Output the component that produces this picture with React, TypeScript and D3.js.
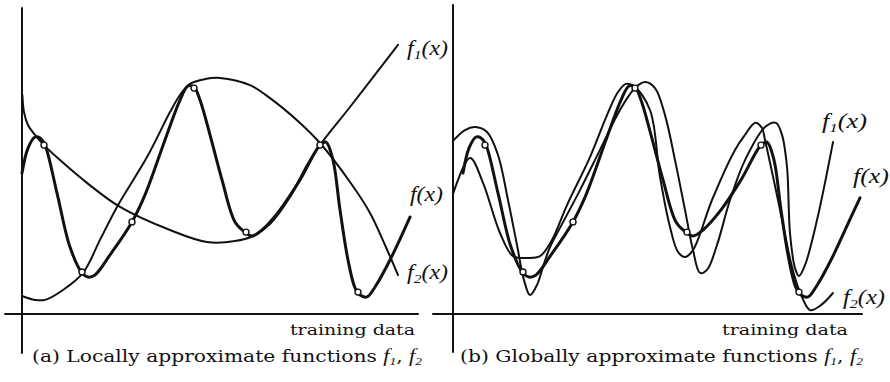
import * as d3 from 'd3';

const W = 890;
const H = 382;

// training data (same inputs in both panels)
const trainX = [5.5, 15, 27.5, 43, 56, 74.5, 84];
const trainY = [56.3, 14, 30.7, 75.3, 27.3, 56.3, 7.3];

// target function f(x)
const fX = [0, 1.5, 3.25, 4.5, 5.75, 8.75, 12, 15, 16.5, 18.25, 22, 27.5, 30.75, 35.75, 39.5, 41.5, 43, 44.5, 47, 50, 53.25, 55.75, 57.5, 60, 64.5, 69.5, 74.5, 76, 77.75, 79.5, 81.5, 83.25, 84.5, 86.25, 88.25, 92, 97, 99.25];
const fY = [47, 55.3, 59, 58.7, 56.3, 40.3, 22.3, 13.7, 12.3, 13, 19.7, 30.7, 39.7, 58, 71.3, 76, 75.7, 71.3, 59.7, 44.7, 30.7, 27.3, 26, 28, 34.7, 44.7, 56.3, 57.3, 51.3, 34.7, 18, 8.7, 6.3, 5.7, 9, 18, 32.3, 38.7];

// (a) locally approximate f1
const locF1X = [0.1, 0.5, 1.5, 3.25, 5.5, 9.5, 16.25, 24.5, 37, 46.25, 53.25, 57.75, 62, 67, 71.25, 74.5, 82, 94];
const locF1Y = [73, 67.3, 63, 59.7, 56.3, 51.3, 43.7, 35.7, 28, 24, 24.3, 26, 30, 39, 49.7, 56.3, 69, 89.7];

// (a) locally approximate f2
const locF2X = [0, 3.25, 5.75, 10.25, 15.25, 19.5, 23.75, 31.25, 37, 39.5, 42, 45.75, 49.5, 57, 61.25, 69.5, 74.5, 82, 87, 90.75, 94];
const locF2Y = [6, 4.7, 4.7, 8, 13.7, 24.7, 35.7, 52.3, 67.3, 73, 76.7, 78.3, 78.7, 76.3, 72.7, 63.7, 57, 44, 33.7, 23, 13];

// (b) globally approximate f1
const glbF1X = [-2.5, 0.5, 3, 6, 8.75, 11.25, 13.5, 15.25, 16.75, 18.5, 20, 21.75, 24.25, 29.25, 34.25, 39.25, 43, 45.5, 48, 50.5, 53, 55.5, 57.5, 59.25, 61, 63.5, 66.75, 70.5, 75.5, 78.25, 79.75, 81, 81.75, 83, 84, 85.5, 88.5, 92.5];
const glbF1Y = [57.7, 61.3, 62.3, 60.7, 53, 38, 23, 11.3, 6.3, 9.7, 15.7, 22.3, 28.7, 41.3, 54.7, 68, 75.3, 77.3, 75.3, 66.3, 51.3, 34.7, 21.3, 13.7, 14.7, 23, 38, 51.3, 62.3, 63.7, 59.7, 49, 27, 15.3, 12.7, 16.3, 31.3, 57.3];

// (b) globally approximate f2
const glbF2X = [-2.5, 1.75, 5, 9.25, 12.5, 16, 19.25, 22.25, 26, 31.75, 36, 38.75, 40.75, 42.75, 46.75, 49.25, 51.75, 53.75, 55.5, 57.5, 62.25, 68, 70.5, 73, 74.75, 75.5, 78.75, 82.25, 84.25, 86.75, 89.25, 92.5];
const glbF2Y = [40, 52, 43.7, 27, 19.3, 18.7, 19.3, 24.7, 36.3, 52.3, 66.3, 74, 76.7, 76, 68, 45.7, 29, 20.7, 19, 21.3, 38, 54.7, 59.7, 63.7, 62, 58, 38, 15.7, 7.3, 1.3, 2.7, 7];

const y = d3.scaleLinear().domain([0, 100]).range([314, 14]);
const xA = d3.scaleLinear().domain([0, 100]).range([22, 422]);
const xB = d3.scaleLinear().domain([0, 100]).range([463, 863]);

const zip = (xs: number[], ys: number[]) => xs.map((v, i) => [v, ys[i]] as [number, number]);

const pathFor = (x: d3.ScaleLinear<number, number>, pts: [number, number][]) =>
  d3
    .line<[number, number]>()
    .x((d) => x(d[0]))
    .y((d) => y(d[1]))
    .curve(d3.curveCatmullRom.alpha(0.5))(pts) || '';

const LABEL_FONT = '"Liberation Serif", "Times New Roman", serif';
const TEXT_FONT = '"DejaVu Serif", serif';

function FLabel({ x, yPos, sub, len }: { x: number; yPos: number; sub?: string; len: number }) {
  return (
    <text x={x} y={yPos} fontFamily={LABEL_FONT} fontStyle="italic" fontSize={20} textLength={len} lengthAdjust="spacingAndGlyphs">
      f
      {sub ? (
        <>
          <tspan fontSize={13} dy={4}>{sub}</tspan>
          <tspan dy={-4}>(x)</tspan>
        </>
      ) : (
        '(x)'
      )}
    </text>
  );
}

function Caption({ x, yPos, tag, word, len }: { x: number; yPos: number; tag: string; word: string; len: number }) {
  return (
    <text x={x} y={yPos} fontFamily={TEXT_FONT} fontSize={16.5} textLength={len} lengthAdjust="spacingAndGlyphs" fill="#111">
      {`(${tag}) ${word} approximate functions `}
      <tspan fontStyle="italic" fontFamily={LABEL_FONT} fontSize={18}>f</tspan>
      <tspan fontStyle="italic" fontFamily={LABEL_FONT} fontSize={11} dy={3}>1</tspan>
      <tspan dy={-3}>, </tspan>
      <tspan fontStyle="italic" fontFamily={LABEL_FONT} fontSize={18}>f</tspan>
      <tspan fontStyle="italic" fontFamily={LABEL_FONT} fontSize={11} dy={3}>2</tspan>
    </text>
  );
}

export default function App() {
  const fPts = zip(fX, fY);
  const fA = pathFor(xA, fPts.slice(0, -1));
  const fB = pathFor(xB, fPts);
  const lf1 = pathFor(xA, zip(locF1X, locF1Y));
  const lf2 = pathFor(xA, zip(locF2X, locF2Y));
  const gf1 = pathFor(xB, zip(glbF1X, glbF1Y));
  const gf2 = pathFor(xB, zip(glbF2X, glbF2Y));
  const train = zip(trainX, trainY);

  const stroke = '#111';

  return (
    <svg width={W} height={H} style={{ position: 'absolute', left: 0, top: 0, background: '#fff' }}>
      {/* panel (a) */}
      <g fill="none" stroke={stroke} strokeLinecap="round" strokeLinejoin="round">
        <line x1={xA(0)} x2={xA(0)} y1={8} y2={353} strokeWidth={2} />
        <line x1={5} x2={418} y1={y(0)} y2={y(0)} strokeWidth={2} />
        <path d={lf2} strokeWidth={2} />
        <path d={lf1} strokeWidth={2} />
        <path d={fA} strokeWidth={3} />
        {train.map((d, i) => (
          <circle key={i} cx={xA(d[0])} cy={y(d[1])} r={3} fill="#fff" strokeWidth={1.4} />
        ))}
      </g>
      {/* panel (b) */}
      <g fill="none" stroke={stroke} strokeLinecap="round" strokeLinejoin="round">
        <line x1={xB(-2.5)} x2={xB(-2.5)} y1={5} y2={352} strokeWidth={2} />
        <line x1={433} x2={862} y1={y(0)} y2={y(0)} strokeWidth={2} />
        <path d={gf2} strokeWidth={2} />
        <path d={gf1} strokeWidth={2} />
        <path d={fB} strokeWidth={3} />
        {train.map((d, i) => (
          <circle key={i} cx={xB(d[0])} cy={y(d[1])} r={3} fill="#fff" strokeWidth={1.4} />
        ))}
      </g>

      <g fill="#111">
        <FLabel x={407} yPos={55} sub="1" len={41} />
        <FLabel x={410} yPos={201} len={33} />
        <FLabel x={407} yPos={279} sub="2" len={41} />
        <FLabel x={822} yPos={128} sub="1" len={45} />
        <FLabel x={853} yPos={183} len={36} />
        <FLabel x={843} yPos={304} sub="2" len={42} />

        <text x={290} y={335} fontFamily={TEXT_FONT} fontSize={15.5} textLength={125} lengthAdjust="spacingAndGlyphs">training data</text>
        <text x={722} y={335} fontFamily={TEXT_FONT} fontSize={15.5} textLength={126} lengthAdjust="spacingAndGlyphs">training data</text>

        <Caption x={32} yPos={362} tag="a" word="Locally" len={390} />
        <Caption x={460} yPos={362} tag="b" word="Globally" len={403} />
      </g>
    </svg>
  );
}
